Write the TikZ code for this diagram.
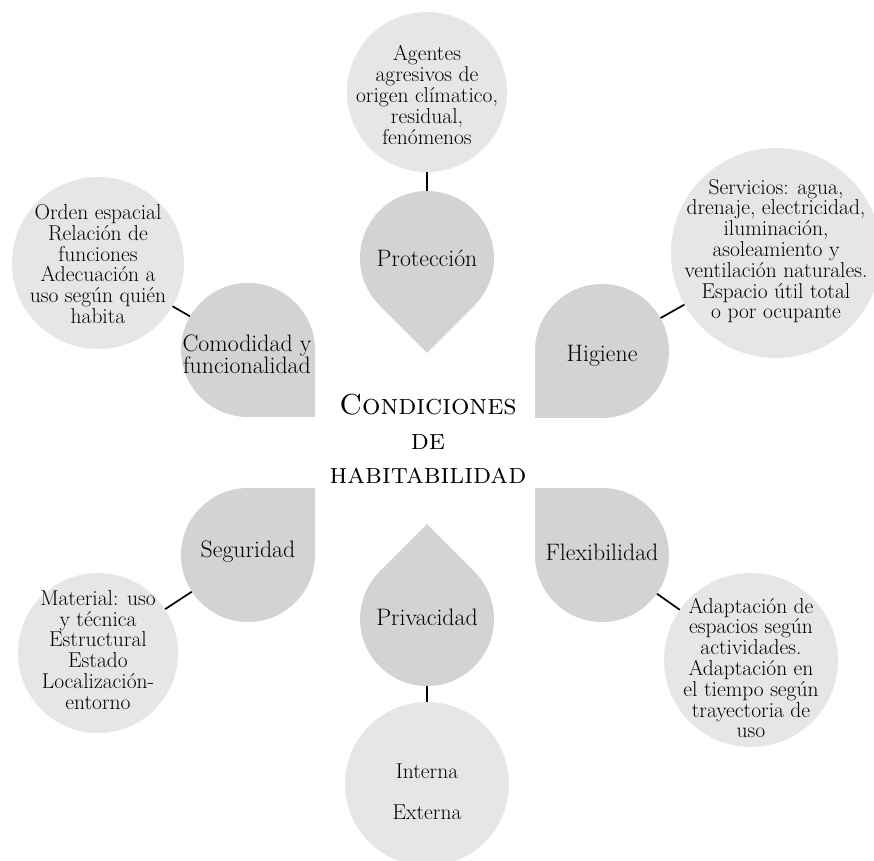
\documentclass[tikz,border=0pt]{standalone}
\usetikzlibrary{calc}
\definecolor{dropgray}{RGB}{211,211,211}
\definecolor{circgray}{RGB}{230,230,230}
\definecolor{inkc}{RGB}{0,0,0}
\tikzset{
  dropc/.style={circle,fill=dropgray,inner sep=0pt,minimum size=134},
  infoc/.style={circle,fill=circgray,inner sep=0pt},
  dtext/.style={align=center,font=\fontsize{23.8}{22}\selectfont,text=inkc,inner sep=0pt},
  itext/.style={align=center,font=\fontsize{21.5}{20.8}\selectfont,text=inkc,inner sep=0pt},
  ctext/.style={align=center,font=\fontsize{29}{34.5}\selectfont\scshape,text=inkc,inner sep=0pt},
  link/.style={line width=1.7pt,black},
}
\begin{document}
\begin{tikzpicture}[x=1pt,y=-1pt]
\fill[white] (0,0) rectangle (874,860);
\useasboundingbox (0,0) rectangle (874,860);

% ---- centres of the drops
\coordinate (pc) at (427,258);
\coordinate (cc) at (248,350);
\coordinate (hc) at (602,351);
\coordinate (sc) at (248,555);
\coordinate (fc) at (602,555);
\coordinate (vc) at (427,619);

% ---- sharp corners of the drops
\fill[dropgray] (pc) -- ++(47.4,47.4) -- ++(-47.4,47.4) -- ++(-47.4,-47.4) -- cycle;
\fill[dropgray] (vc) -- ++(47.4,-47.4) -- ++(-47.4,-47.4) -- ++(-47.4,47.4) -- cycle;
\fill[dropgray] (cc) rectangle ++(67,67);
\fill[dropgray] (hc) rectangle ++(-67,67);
\fill[dropgray] (sc) rectangle ++(67,-67);
\fill[dropgray] (fc) rectangle ++(-67,-67);

% ---- drop bodies
\node[dropc] (proteccion) at (pc) {};
\node[dropc] (comodidad) at (cc) {};
\node[dropc] (higiene) at (hc) {};
\node[dropc] (seguridad) at (sc) {};
\node[dropc] (flexibilidad) at (fc) {};
\node[dropc] (privacidad) at (vc) {};

\node[dtext] (proteccion-t) at (427,258) {Protección};
\node[dtext] (comodidad-t) at (247,354) {Comodidad y\\funcionalidad};
\node[dtext] (higiene-t) at (602,356) {Higiene};
\node[dtext] (seguridad-t) at (248,552) {Seguridad};
\node[dtext] (flexibilidad-t) at (602,552) {Flexibilidad};
\node[dtext] (privacidad-t) at (427,617) {Privacidad};

% ---- information circles
\node[infoc,minimum size=160] (agentes) at (427,92) {};
\node[infoc,minimum size=172] (orden) at (98,263) {};
\node[infoc,minimum size=210] (servicios) at (776,253) {};
\node[infoc,minimum size=160] (material) at (98,653) {};
\node[infoc,minimum size=174] (adaptacion) at (751,660) {};
\node[infoc,minimum size=164] (interna) at (427,784) {};

\node[itext] (agentes-t) at (427,95) {Agentes\\agresivos de\\origen clímatico,\\residual,\\fenómenos};
\node[itext] (orden-t) at (98,264) {Orden espacial\\Relación de\\funciones\\Adecuación a\\uso según quién\\habita};
\node[itext] (servicios-t) at (776,251) {Servicios: agua,\\drenaje, electricidad,\\iluminación,\\asoleamiento y\\ventilación naturales.\\Espacio útil total\\o por ocupante};
\node[itext] (material-t) at (98,650) {Material: uso\\y técnica\\Estructural\\Estado\\Localización-\\entorno};
\node[itext] (adaptacion-t) at (751,668) {Adaptación de\\espacios según\\actividades.\\Adaptación en\\el tiempo según\\trayectoria de\\uso};
\node[itext] (interna-t) at (427,792) {Interna\\[20pt]Externa};

% ---- central title
\node[ctext] (titulo) at (428,439) {Condiciones\\de\\habitabilidad};

% ---- connectors
\draw[link] (agentes) -- (proteccion);
\draw[link] (orden) -- (comodidad);
\draw[link] (servicios) -- (higiene);
\draw[link] (material) -- (seguridad);
\draw[link] (flexibilidad) -- (adaptacion);
\draw[link] (privacidad) -- (interna);
\end{tikzpicture}
\end{document}
